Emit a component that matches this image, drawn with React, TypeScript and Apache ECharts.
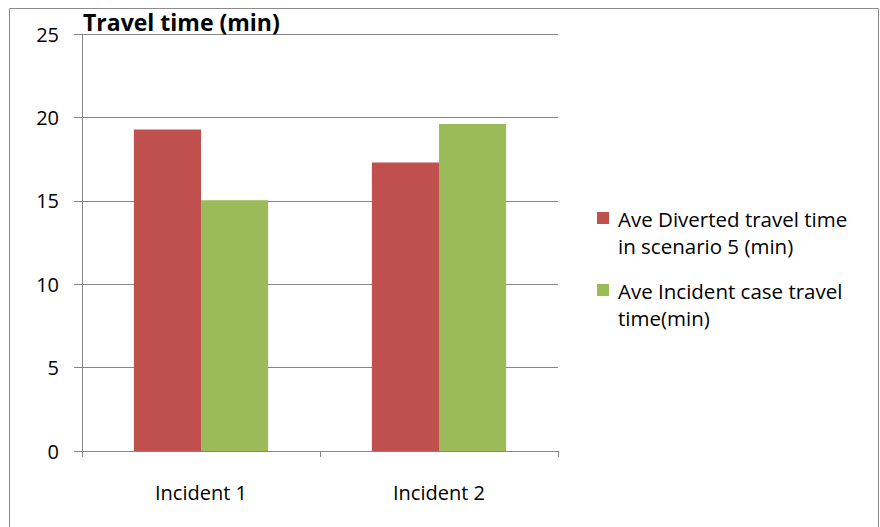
import React, { useEffect, useRef } from "react";
import * as echarts from "echarts";

const categories = ["Incident 1", "Incident 2"];
const seriesNames = ["Ave Diverted travel time in scenario 5 (min)", "Ave Incident case travel time(min)"];
const legendLines = [
  ["Ave Diverted travel time", "in scenario 5 (min)"],
  ["Ave Incident case travel", "time(min)"],
];
const divertedValues = [19.27, 17.3];
const incidentValues = [15.03, 19.6];
const colors = ["#C0504D", "#9BBB59"];
const yTicks = { min: 0, max: 25, interval: 5 };

const FONT = "Open Sans";

export default function App() {
  const ref = useRef<HTMLDivElement>(null);
  useEffect(() => {
    if (!ref.current) return;
    const chart = echarts.init(ref.current, null, { renderer: "svg" });
    const legendGraphics: any[] = [];
    const legendTops = [212, 284];
    legendLines.forEach((lines, i) => {
      legendGraphics.push({
        type: "rect",
        shape: { x: 597, y: legendTops[i], width: 12, height: 12 },
        style: { fill: colors[i] },
      });
      lines.forEach((ln, j) => {
        legendGraphics.push({
          type: "text",
          x: 618,
          y: legendTops[i] + 7 + j * 27,
          style: {
            text: ln,
            fill: "#000",
            font: `20.5px "${FONT}"`,
            verticalAlign: "middle",
          },
        });
      });
    });
    chart.setOption({
      animation: false,
      title: {
        text: "Travel time (min)",
        left: 78,
        top: 5,
        textStyle: { fontFamily: FONT, fontSize: 23, fontWeight: "bold", color: "#000" },
      },
      grid: { left: 82, right: 322, top: 34, bottom: 76 },
      xAxis: {
        type: "category",
        data: categories,
        axisLine: { lineStyle: { color: "#868686" } },
        axisTick: { show: true, length: 6, lineStyle: { color: "#868686" } },
        axisLabel: { fontFamily: FONT, fontSize: 20, color: "#000", margin: 31 },
      },
      yAxis: {
        type: "value",
        min: yTicks.min,
        max: yTicks.max,
        interval: yTicks.interval,
        axisLine: { show: true, lineStyle: { color: "#868686" } },
        axisTick: { show: true, length: 8, lineStyle: { color: "#868686" } },
        splitLine: { lineStyle: { color: "#868686" } },
        axisLabel: { fontFamily: FONT, fontSize: 20, color: "#000", margin: 23 },
      },
      series: [
        {
          name: seriesNames[0],
          type: "bar",
          data: divertedValues,
          itemStyle: { color: colors[0] },
          barGap: "0%",
          barCategoryGap: "43.6%",
        },
        {
          name: seriesNames[1],
          type: "bar",
          data: incidentValues,
          itemStyle: { color: colors[1] },
          barGap: "0%",
          barCategoryGap: "43.6%",
        },
      ],
      graphic: [
        {
          type: "rect",
          shape: { x: 9.5, y: 8.5, width: 869, height: 540 },
          style: { fill: "none", stroke: "#8c8c8c", lineWidth: 1 },
          silent: true,
        },
        ...legendGraphics,
      ],
    });
    return () => chart.dispose();
  }, []);
  return (
    <div
      ref={ref}
      style={{ position: "absolute", left: 0, top: 0, width: 880, height: 527, background: "#fff" }}
    />
  );
}
